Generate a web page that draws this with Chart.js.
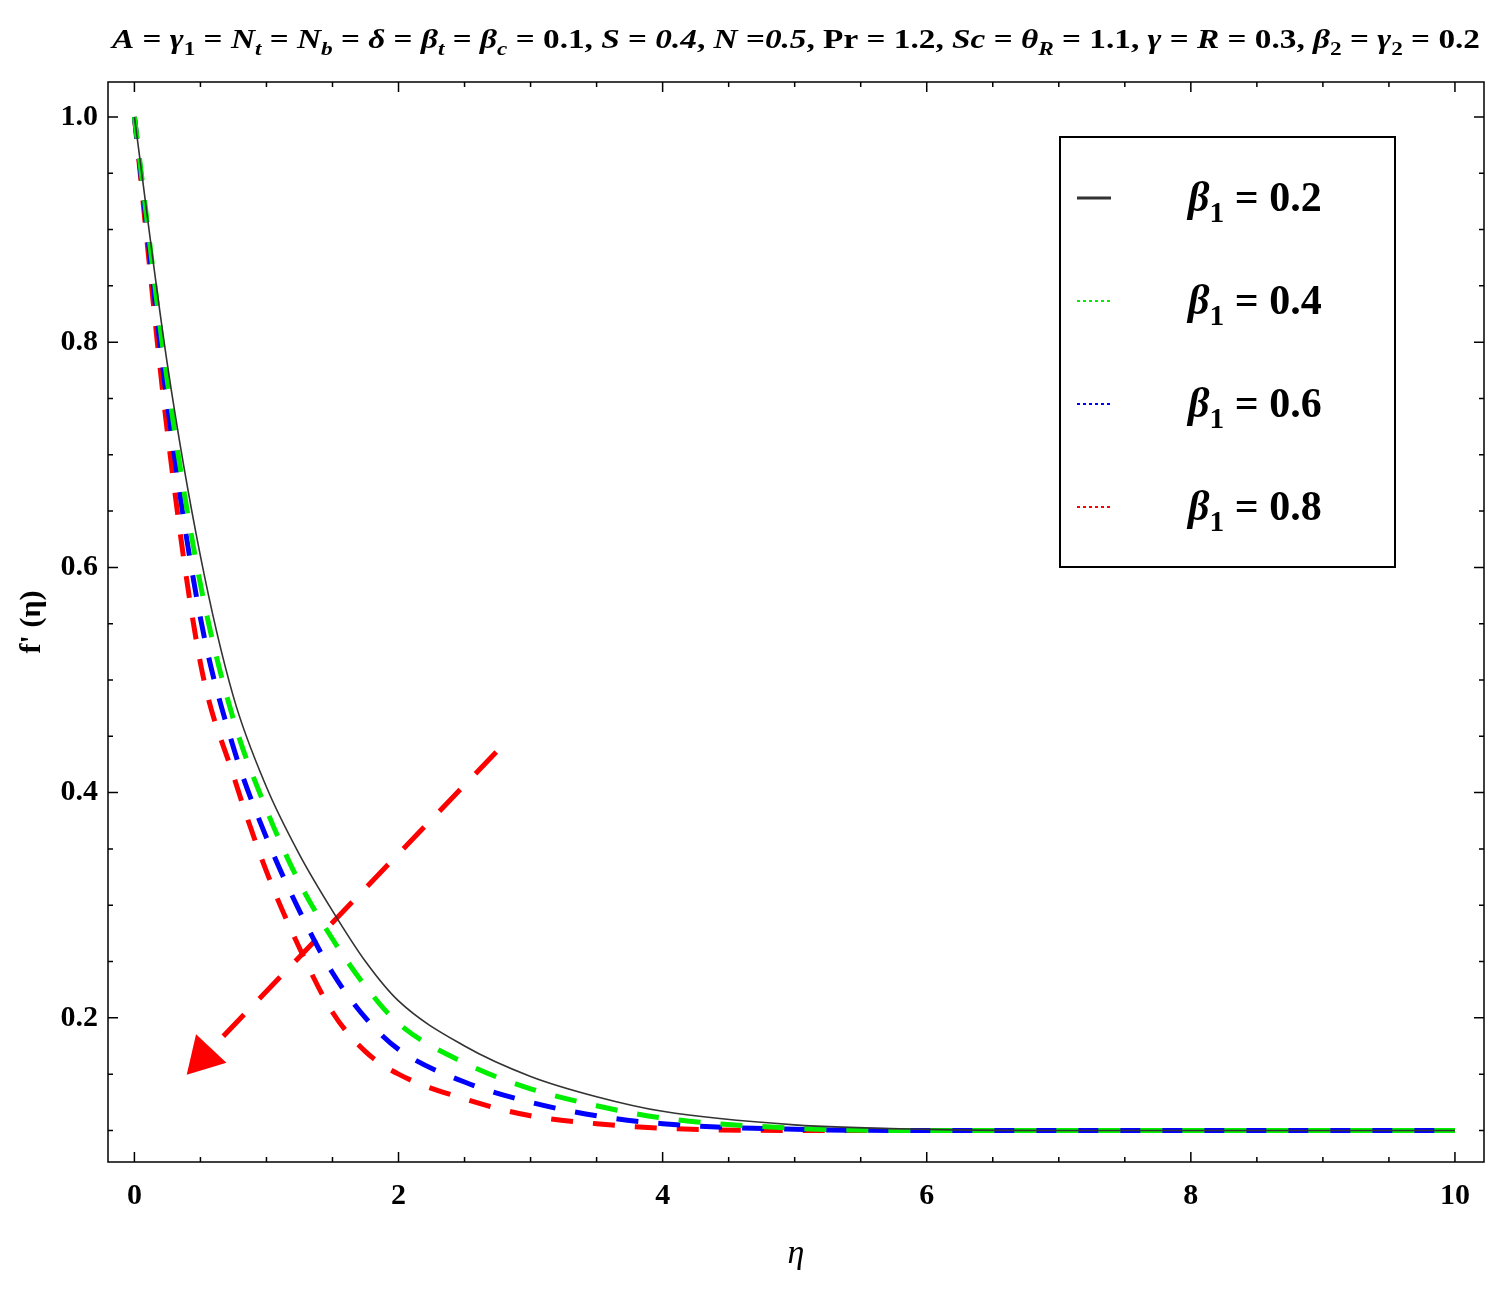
<!DOCTYPE html>
<html><head><meta charset="utf-8">
<script src="https://cdn.jsdelivr.net/npm/chart.js@4.4.1/dist/chart.umd.min.js"></script>
<style>html,body{margin:0;padding:0;background:#fff}#w{width:1508px;height:1292px}</style>
</head><body><div id="w"><canvas id="c"></canvas></div>
<script>
const eta = [0,0.25,0.5,0.75,1,1.25,1.5,1.75,2,2.5,3,3.5,4,5,6,7,8,9,10];
const f02 = [1,0.78,0.61,0.485,0.405,0.345,0.295,0.25,0.215,0.175,0.148,0.13,0.117,0.105,0.101,0.1,0.1,0.1,0.1];
const f04 = [1,0.765,0.585,0.465,0.385,0.32,0.27,0.228,0.195,0.16,0.137,0.122,0.111,0.102,0.1,0.1,0.1,0.1,0.1];
const f06 = [1,0.745,0.555,0.44,0.36,0.295,0.24,0.2,0.172,0.143,0.125,0.113,0.106,0.101,0.1,0.1,0.1,0.1,0.1];
const f08 = [1,0.72,0.515,0.415,0.33,0.262,0.205,0.17,0.15,0.128,0.113,0.106,0.102,0.1,0.1,0.1,0.1,0.1,0.1];
const arrowX = [2.74,0.52];
const arrowY = [0.436,0.165];
const xTicks = [0,2,4,6,8,10];
const yTicks = [0.2,0.4,0.6,0.8,1.0];
const legendLabels = ['0.2','0.4','0.6','0.8'];
const colors = ['#333333','#00ee00','#0000ff','#ff0000'];

const pts = a => eta.map((x,i)=>({x, y:a[i]}));
const ds = [
 {data:pts(f02),borderColor:colors[0],borderWidth:1.6,pointRadius:0,cubicInterpolationMode:'monotone'},
 {data:pts(f04),borderColor:colors[1],borderWidth:5,borderDash:[22,20],pointRadius:0,cubicInterpolationMode:'monotone'},
 {data:pts(f06),borderColor:colors[2],borderWidth:5,borderDash:[22,20],pointRadius:0,cubicInterpolationMode:'monotone'},
 {data:pts(f08),borderColor:colors[3],borderWidth:5,borderDash:[22,20],pointRadius:0,cubicInterpolationMode:'monotone'},
 {data:arrowX.map((x,i)=>({x,y:arrowY[i]})),borderColor:'#ff0000',borderWidth:5,borderDash:[30,22],
  pointRadius:[0,24],pointStyle:'triangle',pointRotation:223,backgroundColor:'#ff0000',pointBorderWidth:0}
];

const serif = '"Liberation Serif","DejaVu Serif",serif';
function drawRich(ctx, segs, x, y, size){
  let cx = x;
  for(const [t,it,sub] of segs){
    const s = sub ? size*0.7 : size;
    ctx.font = (it?'italic ':'')+'bold '+s+'px '+serif;
    ctx.fillText(t, cx, y + (sub? size*0.25:0));
    cx += ctx.measureText(t).width;
  }
  return cx - x;
}
const titleSegs = [
 ['A',1],[' = ',0],['γ',1],['1',0,1],[' = ',0],['N',1],['t',1,1],[' = ',0],['N',1],['b',1,1],[' = ',0],['δ',1],[' = ',0],
 ['β',1],['t',1,1],[' = ',0],['β',1],['c',1,1],[' = 0.1, ',0],['S',1],[' = ',0],['0.4',1],[', ',0],['N',1],[' =',0],['0.5',1],[', Pr = 1.2, ',0],
 ['Sc',1],[' = ',0],['θ',1],['R',1,1],[' = 1.1, ',0],['γ',1],[' = ',0],['R',1],[' = 0.3, ',0],['β',1],['2',0,1],[' = ',0],['γ',1],['2',0,1],[' = 0.2',0]
];

const deco = {
 id:'deco',
 afterDraw(chart){
  const ctx = chart.ctx, a = chart.chartArea, xs = chart.scales.x, ys = chart.scales.y;
  ctx.save();
  ctx.strokeStyle='#000'; ctx.lineWidth=1.5;
  ctx.strokeRect(a.left,a.top,a.right-a.left,a.bottom-a.top);
  ctx.beginPath();
  for(let v=0; v<=10.001; v+=0.5){
    const p = xs.getPixelForValue(v), L = (Math.abs(v/2-Math.round(v/2))<1e-6)?10:5;
    ctx.moveTo(p,a.bottom); ctx.lineTo(p,a.bottom-L);
    ctx.moveTo(p,a.top); ctx.lineTo(p,a.top+L);
  }
  for(let v=0.1; v<=1.0001; v+=0.05){
    const p = ys.getPixelForValue(v), L = (Math.abs(v*5-Math.round(v*5))<1e-6)?10:5;
    ctx.moveTo(a.left,p); ctx.lineTo(a.left+L,p);
    ctx.moveTo(a.right,p); ctx.lineTo(a.right-L,p);
  }
  ctx.stroke();
  ctx.lineWidth=2; ctx.strokeRect(1060,137,335,430);
  ctx.fillStyle='#000'; ctx.textBaseline='alphabetic';
  legendLabels.forEach((lab,i)=>{
    const y = 197 + i*103;
    ctx.strokeStyle = colors[i]; ctx.lineWidth = i===0?3:2;
    ctx.setLineDash(i===0?[]:[3,3]);
    ctx.beginPath(); ctx.moveTo(1077,y+1); ctx.lineTo(1111,y+1); ctx.stroke();
    ctx.setLineDash([]);
    drawRich(ctx,[['β',1],['1',0,1],[' = '+lab,0]],1188,y+14,42);
  });
  ctx.save();
  ctx.translate(112,48);
  const tmp = document.createElement('canvas').getContext('2d');
  const w = drawRich(tmp,titleSegs,0,0,28);
  ctx.scale(1368/w,1);
  drawRich(ctx,titleSegs,0,0,28);
  ctx.restore();
  ctx.restore();
 }
};

new Chart(document.getElementById('c'),{
 type:'line',
 data:{datasets:ds},
 options:{
  responsive:true, maintainAspectRatio:false, animation:false,
  layout:{padding:{top:82,right:23,left:0,bottom:0}},
  plugins:{legend:{display:false},tooltip:{enabled:false}},
  scales:{
   x:{type:'linear',min:-0.2,max:10.22,
      afterBuildTicks:s=>{s.ticks=xTicks.map(v=>({value:v}));},
      afterFit:s=>{s.height=130;},
      grid:{display:false,drawTicks:false},border:{display:false},
      ticks:{padding:16,color:'#000',font:{family:serif,size:30,weight:'bold'},maxRotation:0},
      title:{display:true,text:'η',color:'#000',font:{family:serif,size:34,style:'italic'},padding:{bottom:18}}},
   y:{type:'linear',min:0.072,max:1.031,
      afterBuildTicks:s=>{s.ticks=yTicks.map(v=>({value:v}));},
      afterFit:s=>{s.width=108;},
      grid:{display:false,drawTicks:false},border:{display:false},
      ticks:{padding:10,color:'#000',font:{family:serif,size:30,weight:'bold'},callback:v=>v.toFixed(1)},
      title:{display:true,text:"f' (η)",color:'#000',font:{family:serif,size:30,weight:'bold'},padding:{top:14}}}
  }
 },
 plugins:[deco]
});
</script></body></html>
